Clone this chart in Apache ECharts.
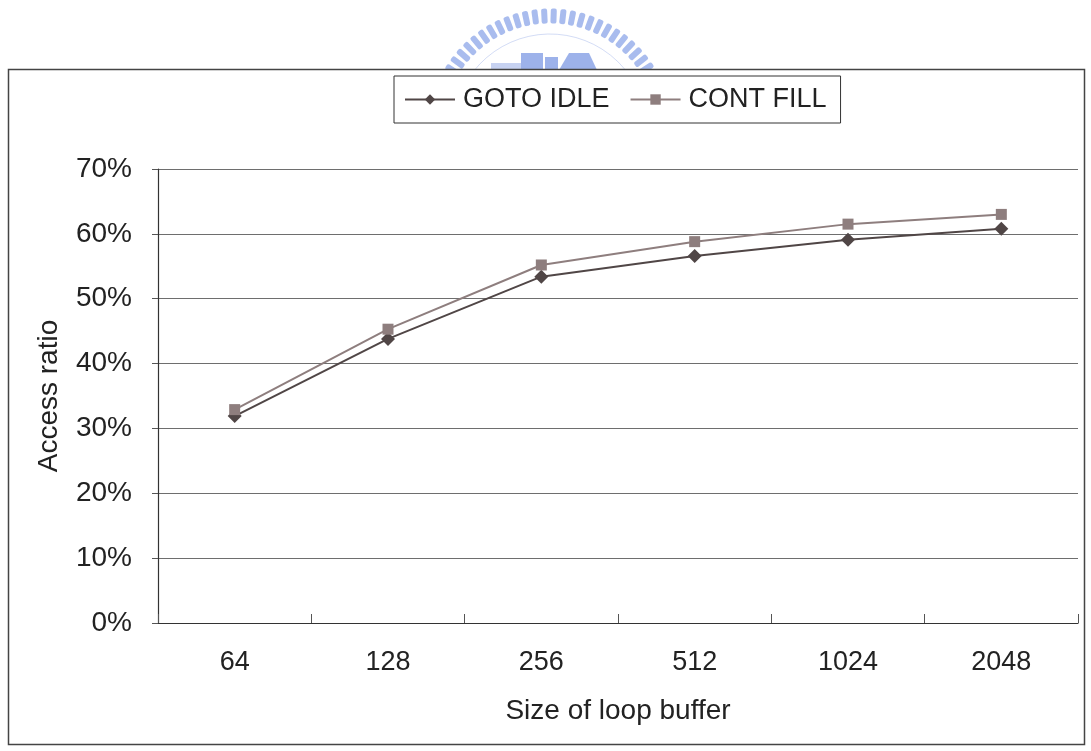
<!DOCTYPE html>
<html>
<head>
<meta charset="utf-8">
<script src="https://cdn.jsdelivr.net/npm/echarts@6/dist/echarts.min.js"></script>
<style>
  html, body { margin: 0; padding: 0; background: #ffffff; }
  #chart { width: 1091px; height: 751px; }
</style>
</head>
<body>
<div id="chart"></div>
<script>
// Loop buffer sizes and access ratios for the two fill policies
const bufferSizes = ['64', '128', '256', '512', '1024', '2048'];
const gotoIdle = [0.319, 0.438, 0.534, 0.566, 0.591, 0.608];
const contFill = [0.329, 0.453, 0.552, 0.588, 0.615, 0.630];
const yTicks = { min: 0, max: 0.7, step: 0.1 };

const FONT = '"Liberation Sans", Arial, sans-serif';
const TEXT = '#222222';

// University seal watermark above the frame: an arc of radial teeth and a small building block
const sealColor = 'rgba(140, 165, 232, 0.75)';
const seal = [];
const cx = 550, cy = 131, rOuter = 122;
for (let a = -58; a <= 58.1; a += 4.6) {
  const rad = a * Math.PI / 180;
  const x = cx + Math.sin(rad) * (rOuter - 7);
  const y = cy - Math.cos(rad) * (rOuter - 7);
  seal.push({
    type: 'rect', z: -10,
    x: x - 3, y: y - 7.5,
    shape: { x: 0, y: 0, width: 6, height: 15, r: 2 },
    originX: 3, originY: 7.5,
    rotation: -rad,
    style: { fill: sealColor }
  });
}
seal.push({
  type: 'arc', z: -10,
  shape: { cx: cx, cy: cy, r: 97, startAngle: -Math.PI * 0.82, endAngle: -Math.PI * 0.18 },
  style: { stroke: 'rgba(130,155,225,0.35)', lineWidth: 1, fill: 'none' }
});
seal.push({ type: 'rect', z: -10, shape: { x: 491, y: 63, width: 30, height: 7 }, style: { fill: 'rgba(130,155,225,0.45)' } });
seal.push({ type: 'rect', z: -10, shape: { x: 521, y: 53, width: 22, height: 17 }, style: { fill: 'rgba(115,145,225,0.7)' } });
seal.push({ type: 'rect', z: -10, shape: { x: 545, y: 57, width: 13, height: 13 }, style: { fill: 'rgba(115,145,225,0.7)' } });
seal.push({ type: 'polygon', z: -10, shape: { points: [[559, 70], [569, 53], [589, 53], [597, 70]] }, style: { fill: 'rgba(115,145,225,0.7)' } });

const chart = echarts.init(document.getElementById('chart'), null, { renderer: 'canvas' });

chart.setOption({
  backgroundColor: '#ffffff',
  animation: false,
  graphic: seal.concat([
    {
      type: 'rect', z: -5,
      shape: { x: 8.5, y: 69.5, width: 1076, height: 675 },
      style: { fill: '#ffffff', stroke: '#444444', lineWidth: 1.5 }
    }
  ]),
  legend: {
    left: 394,
    top: 76,
    padding: [10, 14, 10, 10],
    itemGap: 20,
    itemWidth: 50,
    itemHeight: 13,
    borderColor: '#333333',
    borderWidth: 1,
    backgroundColor: '#ffffff',
    textStyle: { fontFamily: FONT, fontSize: 27, color: TEXT, padding: [0, 0, 0, 3] },
    data: ['GOTO IDLE', 'CONT FILL']
  },
  grid: { left: 158, right: 13, top: 169, bottom: 128 },
  xAxis: {
    type: 'category',
    data: bufferSizes,
    boundaryGap: true,
    name: 'Size of loop buffer',
    nameLocation: 'middle',
    nameGap: 74,
    nameTextStyle: { fontFamily: FONT, fontSize: 28, color: TEXT },
    axisLine: { lineStyle: { color: '#333333', width: 1.2 } },
    axisTick: { show: true, inside: true, length: 9, lineStyle: { color: '#555555' } },
    axisLabel: { margin: 26, fontFamily: FONT, fontSize: 27, color: TEXT },
    splitLine: { show: false }
  },
  yAxis: {
    type: 'value',
    min: yTicks.min,
    max: yTicks.max,
    interval: yTicks.step,
    name: 'Access ratio',
    nameLocation: 'middle',
    nameGap: 95,
    nameTextStyle: { fontFamily: FONT, fontSize: 28, color: TEXT },
    axisLine: { show: true, lineStyle: { color: '#333333', width: 1.2 } },
    axisTick: { show: true, inside: false, length: 6, lineStyle: { color: '#555555' } },
    axisLabel: {
      margin: 26, fontFamily: FONT, fontSize: 28, color: TEXT,
      formatter: v => Math.round(v * 100) + '%'
    },
    splitLine: { show: true, lineStyle: { color: '#6e6e6e', width: 1 } }
  },
  series: [
    {
      name: 'GOTO IDLE',
      type: 'line',
      data: gotoIdle,
      symbol: 'diamond',
      symbolSize: [14, 14],
      color: '#504646',
      lineStyle: { color: '#504646', width: 2 },
      itemStyle: { color: '#504646' },
      z: 3
    },
    {
      name: 'CONT FILL',
      type: 'line',
      data: contFill,
      symbol: 'rect',
      symbolSize: [11, 11],
      color: '#8e7e7e',
      lineStyle: { color: '#8e7e7e', width: 2 },
      itemStyle: { color: '#8e7e7e' },
      z: 4
    }
  ]
});
</script>
</body>
</html>
